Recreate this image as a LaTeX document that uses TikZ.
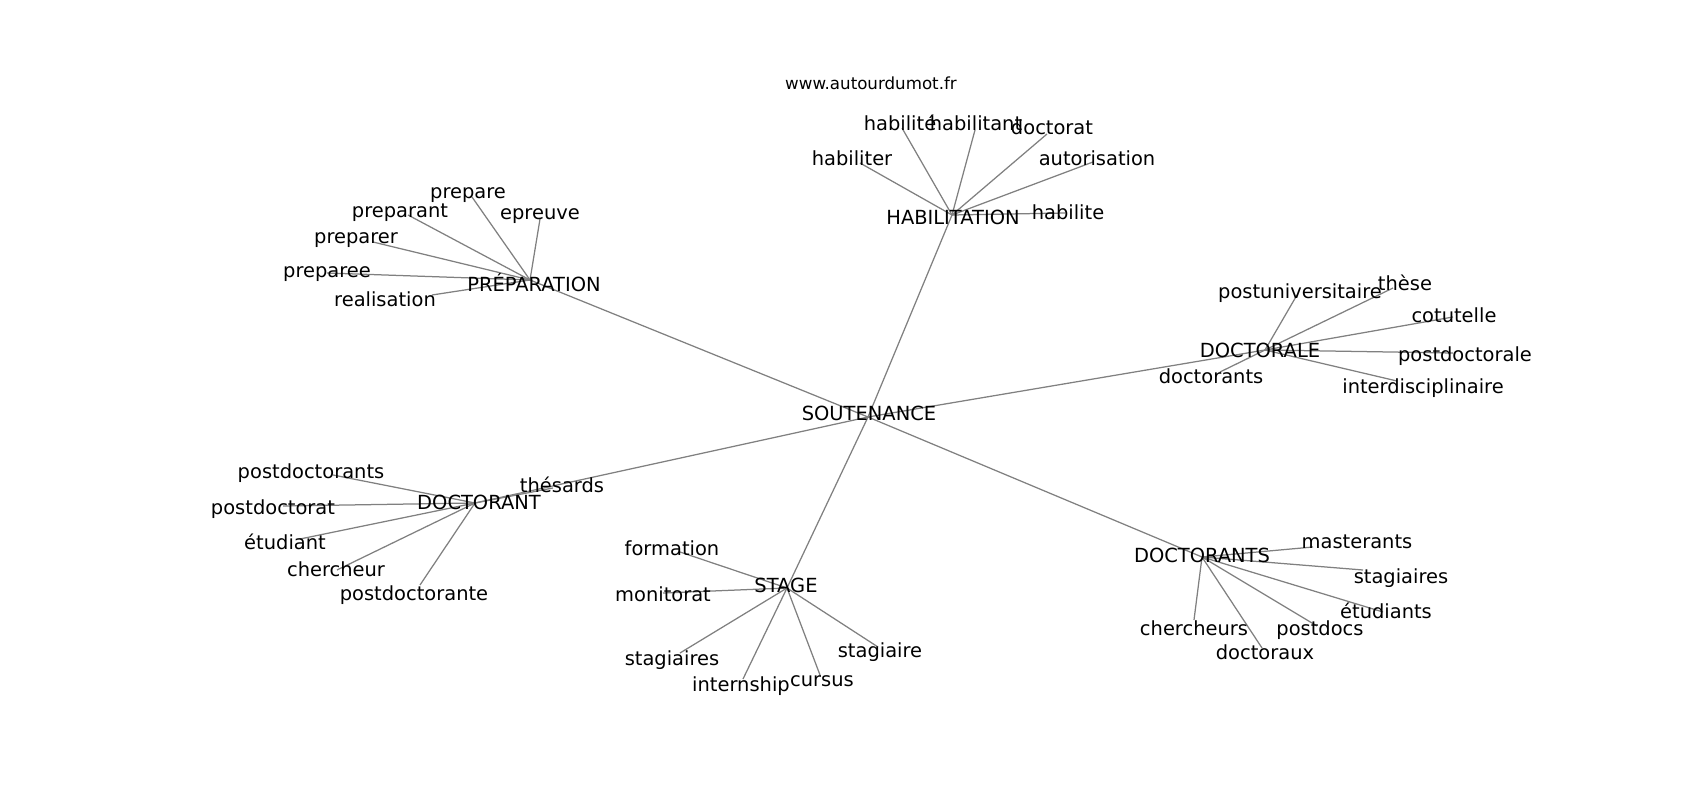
\documentclass[tikz,border=0pt]{standalone}
\usepackage{fontspec}
\setmainfont{DejaVu Sans}
\tikzset{
  word/.style={inner sep=0pt, font=\fontsize{14bp}{16bp}\selectfont},
  lowword/.style={word, yshift=-2bp},
  link/.style={draw=gray, line width=0.9bp}
}
\begin{document}
\begin{tikzpicture}[x=0.01in, y=-0.01in]
      \useasboundingbox (0,0) rectangle (1700,800);
      \node[word, font=\fontsize{12bp}{14bp}\selectfont] (site) at (871,83) {www.autourdumot.fr};
      % vertices
      \draw
        (868,417) coordinate (vsout)
        (530,280) coordinate (vprep)
        (952,215) coordinate (vhabil)
        (1265,350) coordinate (vdorale)
        (475,503) coordinate (vdorant)
        (787,588) coordinate (vstage)
        (1202,557) coordinate (vdorants)
        (472,197) coordinate (v1) (408,215) coordinate (v2) (540,219) coordinate (v3)
        (373,242) coordinate (v4) (327,273) coordinate (v5) (432,295) coordinate (v6)
        (902,128) coordinate (v7) (975,130) coordinate (v8) (1047,134) coordinate (v9)
        (860,163) coordinate (v10) (1093,162) coordinate (v11) (1065,213) coordinate (v12)
        (1297,295) coordinate (v13) (1393,288) coordinate (v14) (1453,317) coordinate (v15)
        (1453,353) coordinate (v16) (1220,372) coordinate (v17) (1397,381) coordinate (v18)
        (333,475) coordinate (v19) (553,488) coordinate (v20) (283,506) coordinate (v21)
        (300,539) coordinate (v22) (337,570) coordinate (v23) (420,585) coordinate (v24)
        (680,552) coordinate (v25) (663,593) coordinate (v26) (680,653) coordinate (v27)
        (743,679) coordinate (v28) (820,675) coordinate (v29) (878,647) coordinate (v30)
        (1313,547) coordinate (v31) (1363,570) coordinate (v32) (1383,612) coordinate (v33)
        (1194,620) coordinate (v34) (1317,626) coordinate (v35) (1262,648) coordinate (v36);
      \begin{scope}[link]
        \draw (vsout) to (vprep);
        \draw (vsout) to (vhabil);
        \draw (vsout) to (vdorale);
        \draw (vsout) to (vdorant);
        \draw (vsout) to (vstage);
        \draw (vsout) to (vdorants);
        \foreach \i in {1,...,6} {\draw (vprep) to (v\i);}
        \foreach \i in {7,...,12} {\draw (vhabil) to (v\i);}
        \foreach \i in {13,...,18} {\draw (vdorale) to (v\i);}
        \foreach \i in {19,...,24} {\draw (vdorant) to (v\i);}
        \foreach \i in {25,...,30} {\draw (vstage) to (v\i);}
        \foreach \i in {31,...,36} {\draw (vdorants) to (v\i);}
      \end{scope}
      % labels
      \node[word] (sout) at (869,413) {SOUTENANCE};
      \node[word] (prep) at (534,283) {PRÉPARATION};
      \node[word] (habil) at (953,217) {HABILITATION};
      \node[word] (dorale) at (1260,350) {DOCTORALE};
      \node[word] (dorant) at (479,502) {DOCTORANT};
      \node[word] (stage) at (786,585) {STAGE};
      \node[word] (dorants) at (1202,555) {DOCTORANTS};
      \node[lowword] (w1) at (468,192) {prepare};
      \node[lowword] (w2) at (400,210) {preparant};
      \node[lowword] (w3) at (540,213) {epreuve};
      \node[lowword] (w4) at (356,237) {preparer};
      \node[lowword] (w5) at (327,271) {preparee};
      \node[word] (w6) at (385,299) {realisation};
      \node[word] (w7) at (900,123) {habilité};
      \node[word] (w8) at (976,123) {habilitant};
      \node[word] (w9) at (1052,127) {doctorat};
      \node[word] (w10) at (852,158) {habiliter};
      \node[word] (w11) at (1097,158) {autorisation};
      \node[word] (w12) at (1068,212) {habilite};
      \node[lowword] (w13) at (1300,290) {postuniversitaire};
      \node[word] (w14) at (1405,283) {thèse};
      \node[word] (w15) at (1454,315) {cotutelle};
      \node[lowword] (w16) at (1465,353) {postdoctorale};
      \node[word] (w17) at (1211,376) {doctorants};
      \node[lowword] (w18) at (1423,385) {interdisciplinaire};
      \node[lowword] (w19) at (311,470) {postdoctorants};
      \node[word] (w20) at (562,485) {thésards};
      \node[lowword] (w21) at (273,506) {postdoctorat};
      \node[word] (w22) at (285,542) {étudiant};
      \node[word] (w23) at (336,569) {chercheur};
      \node[lowword] (w24) at (414,592) {postdoctorante};
      \node[word] (w25) at (672,548) {formation};
      \node[word] (w26) at (663,594) {monitorat};
      \node[lowword] (w27) at (672,657) {stagiaires};
      \node[lowword] (w28) at (741,683) {internship};
      \node[word] (w29) at (822,681) {cursus};
      \node[lowword] (w30) at (880,649) {stagiaire};
      \node[word] (w31) at (1357,542) {masterants};
      \node[lowword] (w32) at (1401,575) {stagiaires};
      \node[word] (w33) at (1386,611) {étudiants};
      \node[word] (w34) at (1194,628) {chercheurs};
      \node[lowword] (w35) at (1320,627) {postdocs};
      \node[word] (w36) at (1265,652) {doctoraux};
    \end{tikzpicture}
\end{document}
